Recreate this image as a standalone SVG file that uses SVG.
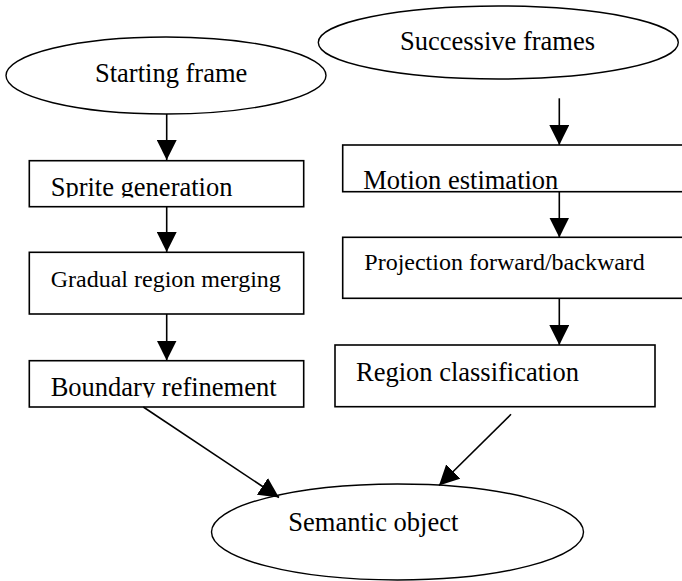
<svg xmlns="http://www.w3.org/2000/svg" width="682" height="581" viewBox="0 0 682 581">
<style>
.shape{fill:#fff;stroke:#000;stroke-width:1.6}
.ell{fill:#fff;stroke:#000;stroke-width:1.4}
.t{font-family:"Liberation Serif","Times New Roman",serif;font-size:26.5px;fill:#000}
.s{font-size:24px}
.conn{stroke:#000;stroke-width:1.6;fill:none;marker-end:url(#ah)}
</style>
<defs>
<marker id="ah" markerUnits="userSpaceOnUse" markerWidth="20" markerHeight="20" refX="20" refY="10" orient="auto" viewBox="0 0 20 20">
<path d="M0,0 L20,10 L0,20 Z" fill="#000"/>
</marker>
<clipPath id="c1"><rect x="29" y="160" width="275" height="37.5"/></clipPath>
<clipPath id="c2"><rect x="29" y="360" width="275" height="37.5"/></clipPath>
</defs>
<rect width="682" height="581" fill="#fff"/>
<g id="n-start">
<ellipse class="ell" cx="166" cy="75.5" rx="160" ry="38.5"/>
<text class="t" x="95" y="82">Starting frame</text>
</g>
<g id="n-successive">
<ellipse class="ell" cx="498.3" cy="42.5" rx="180" ry="36.5"/>
<text class="t" x="400" y="50">Successive frames</text>
</g>
<g id="n-sprite">
<rect class="shape" x="29.3" y="160.7" width="274.4" height="46"/>
<text class="t" x="50.7" y="196" clip-path="url(#c1)">Sprite generation</text>
</g>
<g id="n-gradual">
<rect class="shape" x="29.3" y="252.3" width="274.4" height="61.7"/>
<text class="t s" x="50.7" y="286.7">Gradual region merging</text>
</g>
<g id="n-boundary">
<rect class="shape" x="29.3" y="360.7" width="274.4" height="46.3"/>
<text class="t" x="50.7" y="396" clip-path="url(#c2)">Boundary refinement</text>
</g>
<g id="n-motion">
<rect class="shape" x="342.7" y="145" width="350" height="46.7"/>
<text class="t" x="363.3" y="189.3">Motion estimation</text>
</g>
<g id="n-projection">
<rect class="shape" x="342.7" y="237.3" width="350" height="61"/>
<text class="t s" x="364.3" y="270">Projection forward/backward</text>
</g>
<g id="n-region">
<rect class="shape" x="335" y="345" width="320" height="61.7"/>
<text class="t" x="356" y="380.7">Region classification</text>
</g>
<g id="n-semantic">
<ellipse class="ell" cx="397.5" cy="532" rx="186" ry="48"/>
<text class="t" x="288.3" y="530.7">Semantic object</text>
</g>
<g id="connectors">
<line class="conn" x1="166.7" y1="114" x2="166.7" y2="160"/>
<line class="conn" x1="166.7" y1="206.7" x2="166.7" y2="252"/>
<line class="conn" x1="166.7" y1="314" x2="166.7" y2="360.5"/>
<line class="conn" x1="559.3" y1="98.3" x2="559.3" y2="145"/>
<line class="conn" x1="559.3" y1="191.7" x2="559.3" y2="237.5"/>
<line class="conn" x1="559.3" y1="298.3" x2="559.3" y2="345"/>
<line class="conn" x1="143.3" y1="407" x2="279" y2="497.5"/>
<line class="conn" x1="511" y1="414.3" x2="439" y2="485.5"/>
</g>
</svg>
